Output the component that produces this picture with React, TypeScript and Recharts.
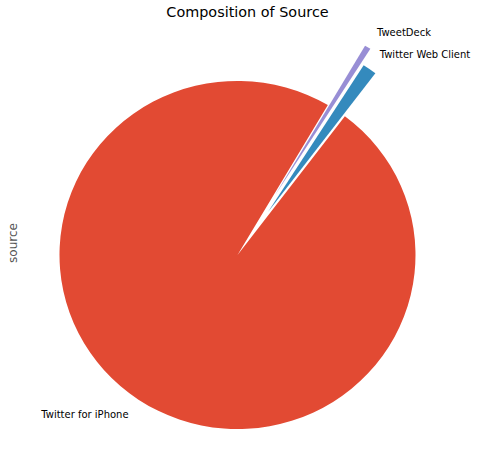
import { PieChart, Pie, Cell } from "recharts";

// tweet counts by source
const sources = ["Twitter for iPhone", "Twitter Web Client", "TweetDeck"];
const counts = [1230, 16, 7];
const explode = [0, 0.3, 0.4];
const colors = ["#E24A33", "#348ABD", "#988ED5"];

const START = 59.5;
const R = 178;
const CX = 237.5;
const CY = 255;
const RAD = Math.PI / 180;
const FONT = "'DejaVu Sans', sans-serif";

const data = sources.map((name, i) => ({ name, value: counts[i] }));
const total = counts.reduce((a, b) => a + b, 0);

function sliceMid(i: number) {
  const before = counts.slice(0, i).reduce((a, b) => a + b, 0);
  return START + ((before + counts[i] / 2) / total) * 360;
}

function makeLabel(owner: number) {
  return (props: any) => {
    if (props.index !== owner) return <g />;
    const mid = props.midAngle ?? sliceMid(owner);
    const r = (props.outerRadius ?? R) * 1.1;
    const x = props.cx + r * Math.cos(mid * RAD);
    const y = props.cy - r * Math.sin(mid * RAD);
    return (
      <text
        x={x}
        y={y}
        fontSize={10}
        fontFamily={FONT}
        fill="#000"
        textAnchor={Math.cos(mid * RAD) >= 0 ? "start" : "end"}
        dominantBaseline="central"
      >
        {props.name}
      </text>
    );
  };
}

export default function App() {
  return (
    <div style={{ position: "fixed", left: 0, top: 0, width: 481, height: 469, background: "#fff" }}>
      <div
        style={{
          position: "absolute",
          left: 0,
          width: 495,
          top: 4,
          textAlign: "center",
          fontFamily: FONT,
          fontSize: 14.4,
          color: "#000",
        }}
      >
        Composition of Source
      </div>
      <div
        style={{
          position: "absolute",
          left: 13,
          top: 243,
          transform: "translate(-50%, -50%) rotate(-90deg)",
          fontFamily: FONT,
          fontSize: 12,
          color: "#555555",
          whiteSpace: "nowrap",
        }}
      >
        source
      </div>
      {/* matplotlib axes were not square, so the pie is slightly squashed */}
      <div
        style={{
          position: "absolute",
          left: 0,
          top: 0,
          transform: "scaleY(0.978)",
          transformOrigin: `0 ${CY}px`,
        }}
      >
        <PieChart width={481} height={469} margin={{ top: 0, right: 0, bottom: 0, left: 0 }}>
          {sources.map((_, owner) => {
            const mid = sliceMid(owner);
            const off = explode[owner] * R;
            return (
              <Pie
                key={owner}
                data={data}
                dataKey="value"
                nameKey="name"
                cx={CX + off * Math.cos(mid * RAD)}
                cy={CY - off * Math.sin(mid * RAD)}
                outerRadius={R}
                startAngle={START}
                endAngle={START + 360}
                stroke="none"
                label={makeLabel(owner)}
                labelLine={false}
                isAnimationActive={false}
              >
                {data.map((d, i) => (
                  <Cell key={d.name} fill={i === owner ? colors[i] : "none"} />
                ))}
              </Pie>
            );
          })}
        </PieChart>
      </div>
    </div>
  );
}
